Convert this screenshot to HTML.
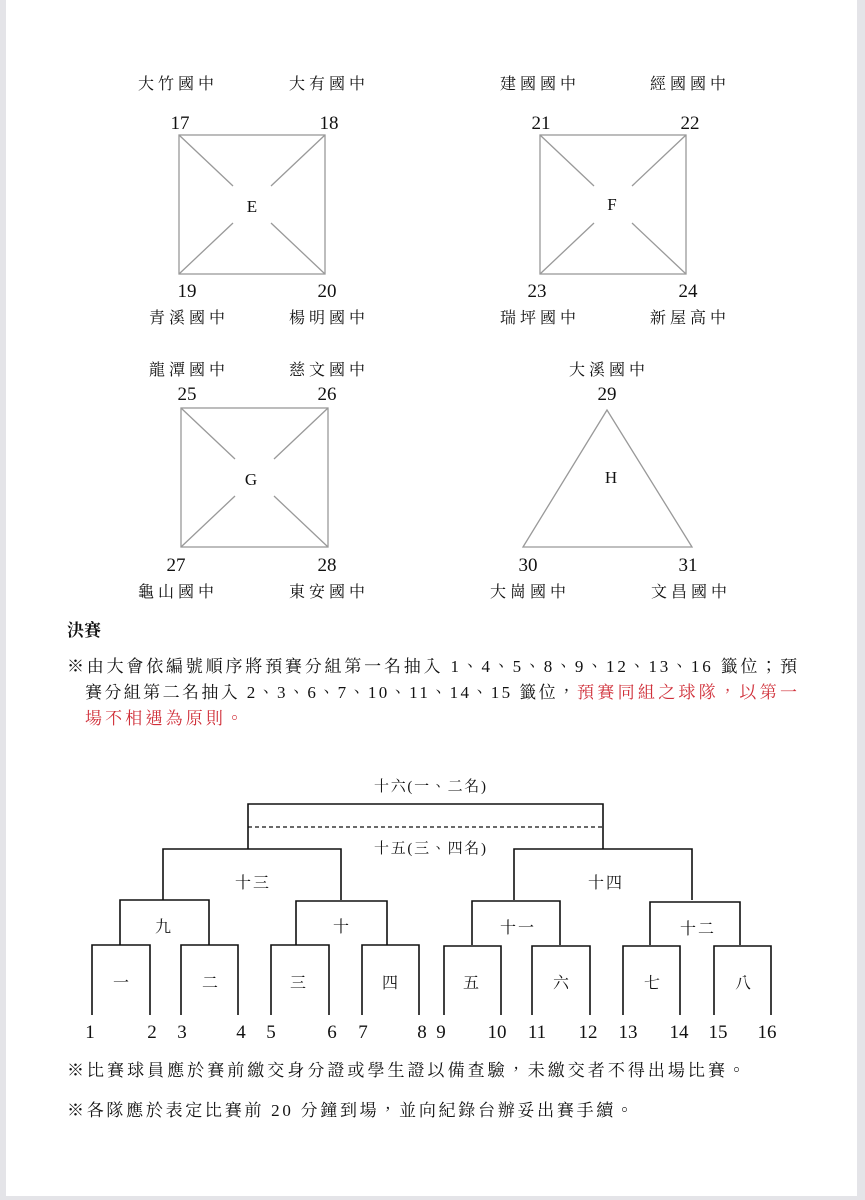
<!DOCTYPE html>
<html><head><meta charset="utf-8"><style>
html,body{margin:0;padding:0;background:#fff;}
svg{display:block;}
text{font-family:"Liberation Serif","Noto Serif CJK TC","Noto Serif CJK SC",serif;fill:#111;}
.n{font-size:19px;}
.c{font-size:16px;}
</style></head><body>
<svg width="865" height="1200" viewBox="0 0 865 1200" xmlns="http://www.w3.org/2000/svg">
<rect x="0" y="0" width="865" height="1200" fill="#fff"/>
<rect x="0" y="0" width="6" height="1200" fill="#e4e4e8"/>
<rect x="857" y="0" width="8" height="1200" fill="#e4e4e8"/>
<rect x="0" y="1196" width="865" height="4" fill="#e4e4e8"/>

<g stroke="#999" stroke-width="1.3" fill="none">
<rect x="179" y="135" width="146" height="139"/>
<line x1="179" y1="135" x2="233" y2="186"/><line x1="325" y1="135" x2="271" y2="186"/>
<line x1="179" y1="274" x2="233" y2="223"/><line x1="325" y1="274" x2="271" y2="223"/>
<rect x="540" y="135" width="146" height="139"/>
<line x1="540" y1="135" x2="594" y2="186"/><line x1="686" y1="135" x2="632" y2="186"/>
<line x1="540" y1="274" x2="594" y2="223"/><line x1="686" y1="274" x2="632" y2="223"/>
<rect x="181" y="408" width="147" height="139"/>
<line x1="181" y1="408" x2="235" y2="459"/><line x1="328" y1="408" x2="274" y2="459"/>
<line x1="181" y1="547" x2="235" y2="496"/><line x1="328" y1="547" x2="274" y2="496"/>
<polygon points="607,410 523,547 692,547"/>
</g>

<g class="c" text-anchor="middle">
<text x="176" y="89" textLength="76">大竹國中</text><text x="327" y="89" textLength="76">大有國中</text>
<text x="538" y="89" textLength="76">建國國中</text><text x="688" y="89" textLength="76">經國國中</text>
<text x="187" y="323" textLength="76">青溪國中</text><text x="327" y="323" textLength="76">楊明國中</text>
<text x="538" y="323" textLength="76">瑞坪國中</text><text x="688" y="323" textLength="76">新屋高中</text>
<text x="187" y="375" textLength="76">龍潭國中</text><text x="327" y="375" textLength="76">慈文國中</text>
<text x="607" y="375" textLength="76">大溪國中</text>
<text x="176" y="597" textLength="76">龜山國中</text><text x="327" y="597" textLength="76">東安國中</text>
<text x="528" y="597" textLength="76">大崗國中</text><text x="689" y="597" textLength="76">文昌國中</text>
</g>
<g class="n" text-anchor="middle">
<text x="180" y="129">17</text><text x="329" y="129">18</text>
<text x="187" y="297">19</text><text x="327" y="297">20</text>
<text x="541" y="129">21</text><text x="690" y="129">22</text>
<text x="537" y="297">23</text><text x="688" y="297">24</text>
<text x="187" y="400">25</text><text x="327" y="400">26</text>
<text x="176" y="571">27</text><text x="327" y="571">28</text>
<text x="607" y="400">29</text><text x="528" y="571">30</text><text x="688" y="571">31</text>
<text x="252" y="212" font-size="17">E</text><text x="612" y="210" font-size="17">F</text>
<text x="251" y="485" font-size="17">G</text><text x="611" y="483" font-size="17">H</text>
</g>

<text x="67" y="636" font-size="17" font-weight="bold" textLength="34">決賽</text>
<text x="67" y="672" font-size="17" textLength="730" lengthAdjust="spacing">※由大會依編號順序將預賽分組第一名抽入 1、4、5、8、9、12、13、16 籤位；預</text>
<text x="85" y="698" font-size="17" textLength="490" lengthAdjust="spacing">賽分組第二名抽入 2、3、6、7、10、11、14、15 籤位，</text>
<text x="577" y="698" font-size="17" textLength="220" lengthAdjust="spacing" style="fill:#d0303a">預賽同組之球隊，以第一</text>
<text x="85" y="724" font-size="17" textLength="158" lengthAdjust="spacing" style="fill:#d0303a">場不相遇為原則。</text>

<g stroke="#111" stroke-width="1.6" fill="none">
<polyline points="248,849 248,804 603,804 603,849"/>
<line x1="248" y1="827" x2="603" y2="827" stroke-dasharray="4,3" stroke-width="1.2"/>
<polyline points="163,900 163,849 341,849 341,900"/>
<polyline points="514,900 514,849 692,849 692,900"/>
<polyline points="120,945 120,900 209,900 209,945"/>
<polyline points="296,945 296,901 387,901 387,945"/>
<polyline points="472,945 472,901 560,901 560,945"/>
<polyline points="650,945 650,902 740,902 740,945"/>
<polyline points="92,1015 92,945 150,945 150,1015"/>
<polyline points="181,1015 181,945 238,945 238,1015"/>
<polyline points="271,1015 271,945 329,945 329,1015"/>
<polyline points="362,1015 362,945 419,945 419,1015"/>
<polyline points="444,1015 444,946 501,946 501,1015"/>
<polyline points="532,1015 532,946 590,946 590,1015"/>
<polyline points="623,1015 623,946 680,946 680,1015"/>
<polyline points="714,1015 714,946 771,946 771,1015"/>
</g>
<g class="c" text-anchor="middle">
<text x="430" y="791" font-size="15" textLength="112" lengthAdjust="spacing">十六(一、二名)</text>
<text x="430" y="853" font-size="15" textLength="112" lengthAdjust="spacing">十五(三、四名)</text>
<text x="252" y="888" textLength="34">十三</text><text x="605" y="888" textLength="34">十四</text>
<text x="163" y="932">九</text><text x="341" y="932">十</text>
<text x="517" y="933" textLength="34">十一</text><text x="697" y="934" textLength="34">十二</text>
<text x="121" y="988">一</text><text x="210" y="988">二</text><text x="298" y="988">三</text><text x="390" y="988">四</text>
<text x="471" y="988">五</text><text x="561" y="988">六</text><text x="652" y="988">七</text><text x="743" y="988">八</text>
</g>
<g class="n" text-anchor="middle">
<text x="90" y="1038">1</text><text x="152" y="1038">2</text><text x="182" y="1038">3</text><text x="241" y="1038">4</text>
<text x="271" y="1038">5</text><text x="332" y="1038">6</text><text x="363" y="1038">7</text><text x="422" y="1038">8</text>
<text x="441" y="1038">9</text><text x="497" y="1038">10</text><text x="537" y="1038">11</text><text x="588" y="1038">12</text>
<text x="628" y="1038">13</text><text x="679" y="1038">14</text><text x="718" y="1038">15</text><text x="767" y="1038">16</text>
</g>

<text x="67" y="1076" font-size="17" textLength="678" lengthAdjust="spacing">※比賽球員應於賽前繳交身分證或學生證以備查驗，未繳交者不得出場比賽。</text>
<text x="67" y="1116" font-size="17" textLength="566" lengthAdjust="spacing">※各隊應於表定比賽前 20 分鐘到場，並向紀錄台辦妥出賽手續。</text>
</svg>
</body></html>
